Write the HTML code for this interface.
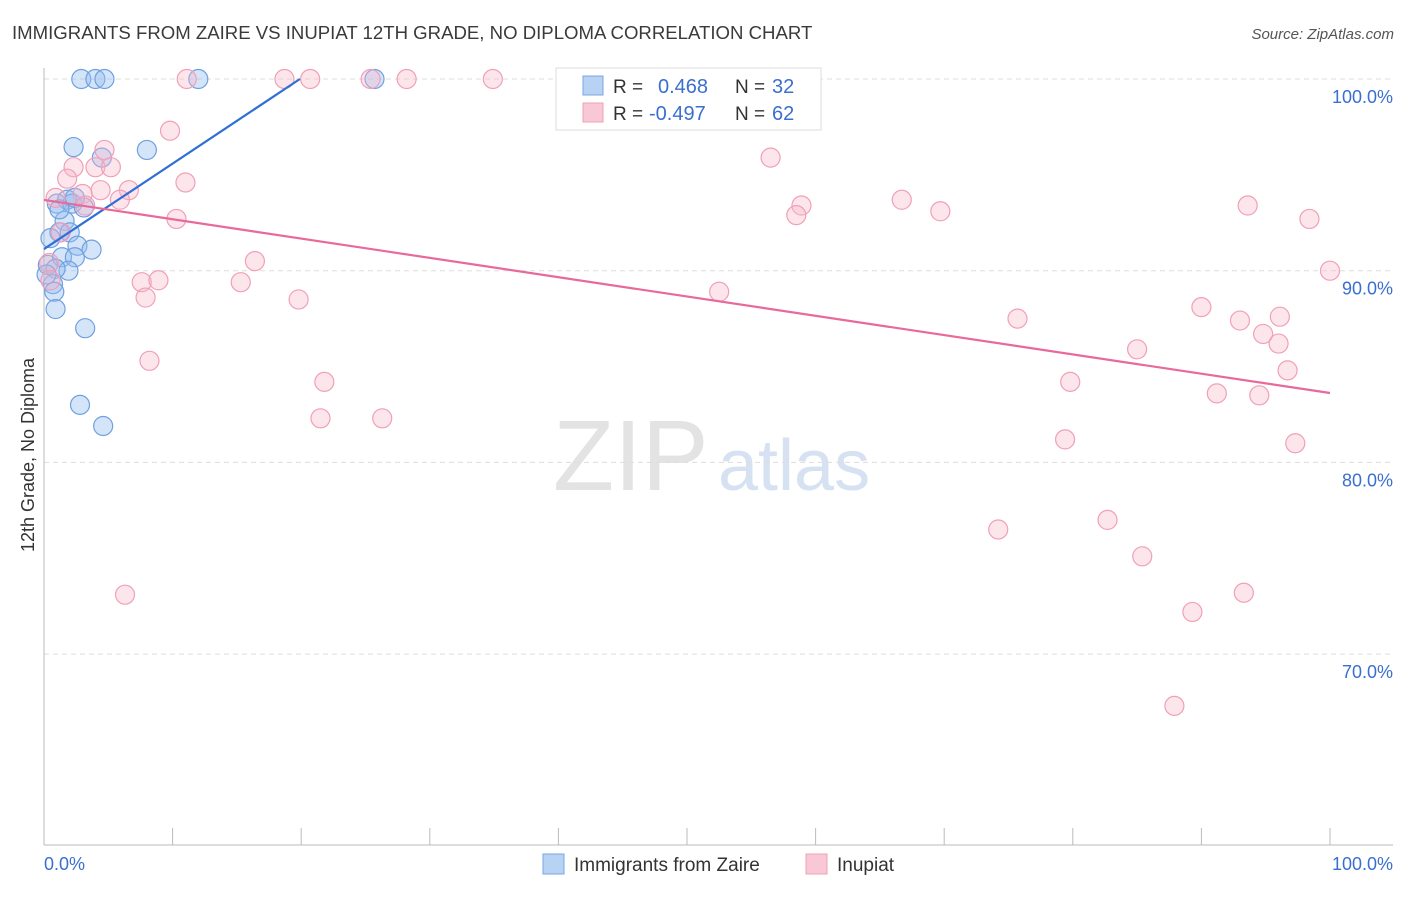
<!DOCTYPE html>
<html><head><meta charset="utf-8"><style>
body{margin:0;background:#fff;font-family:"Liberation Sans",sans-serif;}
svg text{font-family:"Liberation Sans",sans-serif;}
</style></head><body>
<svg id="chart" width="1406" height="892" xmlns="http://www.w3.org/2000/svg">
<text x="12" y="39" font-size="18.6" fill="#3a3a3a">IMMIGRANTS FROM ZAIRE VS INUPIAT 12TH GRADE, NO DIPLOMA CORRELATION CHART</text>
<text x="1394" y="39" font-size="15" fill="#555" text-anchor="end" font-style="italic">Source: ZipAtlas.com</text>
<text x="553" y="490" font-size="100" fill="#e3e3e3" font-family="Liberation Serif">ZIP</text>
<text x="718" y="490" font-size="72" fill="#d6e2f2">atlas</text>
<text transform="translate(34,455) rotate(-90)" font-size="18" fill="#333" text-anchor="middle">12th Grade, No Diploma</text>
<g id="grid"></g><g id="axes"></g><g id="pts"></g><g id="lines"></g>
<g>
<rect x="556" y="68" width="265" height="62" fill="#fff" stroke="#ddd"/>
<rect x="583" y="76" width="20" height="19" fill="#b8d2f4" stroke="#7aa6e0"/>
<rect x="583" y="103" width="20" height="19" fill="#f9c8d6" stroke="#f0a0b8"/>
<text x="613" y="93" font-size="19" fill="#333">R =</text>
<text x="658" y="93" font-size="20" fill="#3a6fd0">0.468</text>
<text x="735" y="93" font-size="19" fill="#333">N =</text>
<text x="772" y="93" font-size="20" fill="#3a6fd0">32</text>
<text x="613" y="120" font-size="19" fill="#333">R =</text>
<text x="649" y="120" font-size="20" fill="#3a6fd0">-0.497</text>
<text x="735" y="120" font-size="19" fill="#333">N =</text>
<text x="772" y="120" font-size="20" fill="#3a6fd0">62</text>
</g>
<g>
<rect x="543" y="854" width="21" height="20" fill="#b8d2f4" stroke="#7aa6e0"/>
<text x="574" y="871" font-size="19" fill="#333">Immigrants from Zaire</text>
<rect x="806" y="854" width="21" height="20" fill="#f9c8d6" stroke="#f0a0b8"/>
<text x="837" y="871" font-size="19" fill="#333">Inupiat</text>
</g>
<text x="44" y="870" font-size="18" fill="#3a6fd0">0.0%</text>
<text x="1393" y="870" font-size="18" fill="#3a6fd0" text-anchor="end">100.0%</text>
</svg>
<script>
const yTicks=[100,90,80,70];
const yTickLabels=["100.0%","90.0%","80.0%","70.0%"];
const zaireX=[2.9,4.0,4.7,12.0,25.7,2.3,8.0,4.5,1.0,1.8,2.2,3.1,1.6,1.2,2.0,2.6,3.7,0.5,0.3,1.4,2.4,1.9,0.9,0.7,0.8,0.9,3.2,2.8,4.6,0.2,1.2,2.4];
const zaireY=[100,100,100,100,100,96.45,96.3,95.9,93.5,93.7,93.5,93.3,92.6,92.0,92.0,91.3,91.1,91.7,90.3,90.7,90.7,90.0,90.1,89.3,88.9,88.0,87.0,83.0,81.9,89.8,93.2,93.8];
const inupiatX=[11.1,18.7,20.7,25.4,28.2,34.9,47.1,9.8,4.7,2.3,4.0,5.2,1.8,6.6,11.0,4.4,0.9,3.0,5.9,10.3,3.2,1.3,16.4,7.6,8.9,15.3,7.9,19.8,0.4,0.5,8.2,21.8,21.5,26.3,6.3,56.5,58.9,58.5,66.7,69.7,93.6,98.4,100,52.5,75.7,90.0,93.0,96.1,94.8,96.0,85.0,96.7,79.8,91.2,94.5,79.4,97.3,74.2,82.7,85.4,89.3,93.3,87.9];
const inupiatY=[100,100,100,100,100,100,100,97.3,96.3,95.4,95.4,95.4,94.8,94.2,94.6,94.2,93.8,94.0,93.7,92.7,93.4,92.0,90.5,89.4,89.5,89.4,88.6,88.5,90.4,89.5,85.3,84.2,82.3,82.3,73.1,95.9,93.4,92.9,93.7,93.1,93.4,92.7,90.0,88.9,87.5,88.1,87.4,87.6,86.7,86.2,85.9,84.8,84.2,83.6,83.5,81.2,81.0,76.5,77.0,75.1,72.2,73.2,67.3];
const zaireTrend=[[0,91.13],[19.9,100]];
const inupiatTrend=[[0,93.69],[100,83.62]];
const NS="http://www.w3.org/2000/svg";
const sx=v=>44+v*12.86;
const sy=v=>79+(100-v)*19.17;
function mk(tag,attrs,parent){const e=document.createElementNS(NS,tag);for(const k in attrs)e.setAttribute(k,attrs[k]);document.getElementById(parent).appendChild(e);return e;}
yTicks.forEach((t,i)=>{
 const l=mk('line',{x1:44,x2:1393,y1:sy(t),y2:sy(t),stroke:'#ddd','stroke-dasharray':'5,4'},'grid');
 
 
 const tx=mk('text',{x:1393,y:sy(t)+24,'font-size':18,fill:'#3a6fd0','text-anchor':'end'},'grid');
 tx.textContent=yTickLabels[i];
 
 
});
const ax=mk('line',{x1:44,x2:1393,y1:845,y2:845,stroke:'#bbb'},'axes');


const ay=mk('line',{x1:44,x2:44,y1:68,y2:845,stroke:'#bbb'},'axes');


for(let i=1;i<=10;i++){
 const t=mk('line',{x1:sx(i*10),x2:sx(i*10),y1:828,y2:845,stroke:'#bbb'},'axes');
 
 
}
zaireX.forEach((x,i)=>{
 const c=mk('circle',{cx:sx(x),cy:sy(zaireY[i]),r:9.5,fill:'rgba(150,190,240,0.4)',stroke:'#6fa0e0','stroke-width':1.2},'pts');
 
 
});
inupiatX.forEach((x,i)=>{
 const c=mk('circle',{cx:sx(x),cy:sy(inupiatY[i]),r:9.5,fill:'rgba(248,180,200,0.35)',stroke:'#f0a0b8','stroke-width':1.2},'pts');
 
 
});
const bl=mk('line',{x1:sx(zaireTrend[0][0]),y1:sy(zaireTrend[0][1]),x2:sx(zaireTrend[1][0]),y2:sy(zaireTrend[1][1]),stroke:'#2f6fd6','stroke-width':2.2},'lines');


const pl=mk('line',{x1:sx(inupiatTrend[0][0]),y1:sy(inupiatTrend[0][1]),x2:sx(inupiatTrend[1][0]),y2:sy(inupiatTrend[1][1]),stroke:'#e8699a','stroke-width':2.2},'lines');


</script>
</body></html>
